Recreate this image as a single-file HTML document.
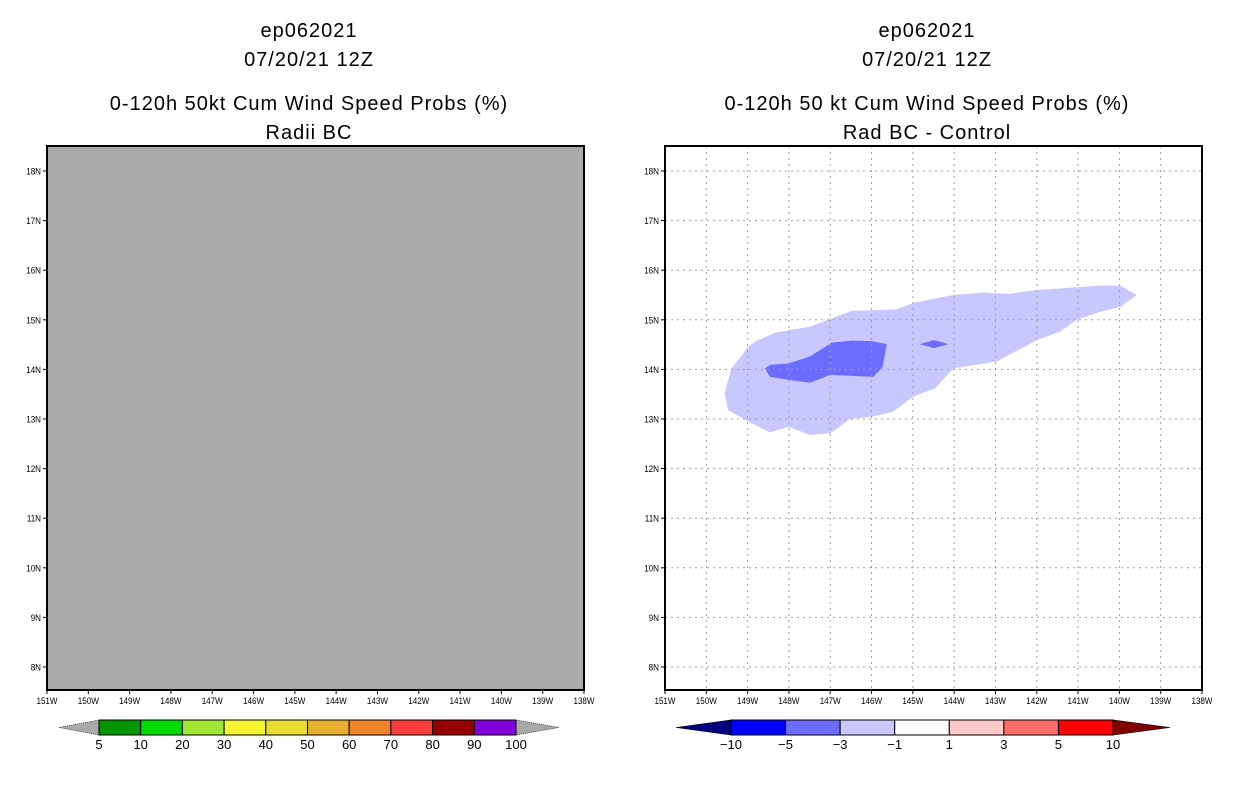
<!DOCTYPE html>
<html><head><meta charset="utf-8"><style>
html,body{margin:0;padding:0;background:#fff;width:1236px;height:800px;overflow:hidden}
svg{display:block}
text{font-family:"Liberation Sans",sans-serif}
</style></head><body>
<svg id="s" width="1236" height="800" xmlns="http://www.w3.org/2000/svg"></svg>
<script>
const lonTicks=[151,150,149,148,147,146,145,144,143,142,141,140,139,138];
const latTicks=[8,9,10,11,12,13,14,15,16,17,18];
const lightLon=[-149.56,-149.39,-148.98,-148.78,-148.30,-147.49,-146.96,-146.48,-145.39,-144.99,-144.02,-143.25,-142.69,-142.00,-140.47,-139.98,-139.58,-139.98,-140.47,-141.03,-141.44,-142.00,-142.97,-144.02,-144.46,-144.99,-145.47,-145.96,-146.52,-147.00,-147.49,-148.01,-148.46,-148.98,-149.47];
const lightLat=[13.52,14.02,14.46,14.58,14.75,14.86,15.03,15.18,15.21,15.34,15.50,15.55,15.52,15.60,15.69,15.69,15.50,15.26,15.16,15.00,14.76,14.59,14.16,14.02,13.62,13.45,13.15,13.05,13.00,12.71,12.68,12.84,12.73,12.95,13.18];
const darkLon=[-148.58,-148.46,-148.01,-147.49,-146.96,-146.48,-146.00,-145.63,-145.73,-145.96,-146.48,-147.00,-147.49,-148.01,-148.46];
const darkLat=[14.02,14.09,14.12,14.26,14.54,14.58,14.57,14.51,14.05,13.85,13.87,13.89,13.73,13.79,13.85];
const spotLon=[-144.83,-144.49,-144.14,-144.49];
const spotLat=[14.51,14.59,14.51,14.43];
const leftBarLabels=["5","10","20","30","40","50","60","70","80","90","100"];
const leftBarColors=["#009600","#00dc00","#a0e632","#f5f532","#e6dc32","#e6af2d","#f08228","#fa3c3c","#960000","#8200dc"];
const rightBarLabels=["-10","-5","-3","-1","1","3","5","10"];
const rightBarColors=["#0000ff","#6c6cff","#c8c8ff","#ffffff","#ffc8c8","#ff6c6c","#ff0000"];

const S=document.getElementById('s');const NS="http://www.w3.org/2000/svg";
function el(t,a,p){const e=document.createElementNS(NS,t);for(const k in a)e.setAttribute(k,a[k]);(p||S).appendChild(e);return e;}
const PW=537,T=146,B=690;
function xs(x0){return lon=>x0+(lon+151)*(PW/13);}
function ys(lat){return 171+(18-lat)*49.6;}

function titles(cx,l){
  const ys_=[30,59,103,132];
  l.forEach((t,i)=>{const e=el('text',{x:cx,y:ys_[i]+7,'text-anchor':'middle','font-size':'20','fill':'#000','letter-spacing':'1'});e.textContent=t;
  
  });
}
function axes(x0,grid){
  const X=xs(x0);
  const g=el('g',{});
  
  
  lonTicks.forEach(v=>{const x=X(-v);
    el('line',{x1:x,x2:x,y1:B,y2:B+4,stroke:'#000','stroke-width':1},g);
    if(grid&&v!==151&&v!==138) el('line',{x1:x,x2:x,y1:T,y2:B,stroke:'#a0a0a0','stroke-width':1,'stroke-dasharray':'2,4'},g);
    const t=el('text',{x:x,y:B+14,'text-anchor':'middle','font-size':'9.5','transform':`translate(${x},0) scale(0.85,1) translate(${-x},0)`},g);t.textContent=v+'W';
    
    });
  latTicks.forEach(v=>{const y=ys(v);
    el('line',{x1:x0-4,x2:x0,y1:y,y2:y,stroke:'#000','stroke-width':1},g);
    if(grid) el('line',{x1:x0,x2:x0+PW,y1:y,y2:y,stroke:'#a0a0a0','stroke-width':1,'stroke-dasharray':'2,4'},g);
    const t=el('text',{x:x0-6,y:y+3.5,'text-anchor':'end','font-size':'9.5','transform':`translate(${x0-6},0) scale(0.85,1) translate(${-(x0-6)},0)`},g);t.textContent=v+'N';
    
    });
}
function poly(X,lons,lats,fill,name){
  const p=el('polygon',{points:lons.map((l,i)=>X(l)+','+ys(lats[i])).join(' '),fill:fill});
  
  
}
// Left panel
titles(309,["ep062021","07/20/21 12Z","0-120h 50kt Cum Wind Speed Probs (%)","Radii BC"]);
const lp=el('rect',{x:47,y:T,width:PW,height:B-T,fill:'#aaaaaa'});


axes(47,false);
el('rect',{x:47,y:T,width:PW,height:B-T,fill:'none',stroke:'#000','stroke-width':2});
// Right panel
titles(927,["ep062021","07/20/21 12Z","0-120h 50 kt Cum Wind Speed Probs (%)","Rad BC - Control"]);
const rp=el('rect',{x:665,y:T,width:PW,height:B-T,fill:'#fff'});


const XR=xs(665);
poly(XR,lightLon,lightLat,'#c8c8ff','contour-minus1-to-minus3');
poly(XR,darkLon,darkLat,'#6c6cff','contour-minus3-to-minus5');
poly(XR,spotLon,spotLat,'#6c6cff','contour-minus3-spot');
axes(665,true);
el('rect',{x:665,y:T,width:PW,height:B-T,fill:'none',stroke:'#000','stroke-width':2});
// Colorbars
function cbar(x0,x1,ta,tb,colors,labels,lc,rc,name){
  const g=el('g',{});
  
  
  const y0=720,y1=735,w=(x1-x0)/colors.length;
  el('polygon',{points:`${x0},${y0} ${x0},${y1} ${ta},${(y0+y1)/2}`,fill:lc,stroke:'#000','stroke-width':0.6,'stroke-dasharray':lc==='#aaaaaa'?'1,1':''},g);
  el('polygon',{points:`${x1},${y0} ${x1},${y1} ${tb},${(y0+y1)/2}`,fill:rc,stroke:'#000','stroke-width':0.6,'stroke-dasharray':rc==='#aaaaaa'?'1,1':''},g);
  colors.forEach((c,i)=>el('rect',{x:x0+i*w,y:y0,width:w,height:y1-y0,fill:c,stroke:'#000','stroke-width':1},g));
  const off=labels.length===colors.length+1?0:1;
  labels.forEach((l,i)=>{const x=x0+(i+off)*w;const t=el('text',{x:x,y:749,'text-anchor':'middle','font-size':'13'},g);t.textContent=l.replace('-','\u2212');
    
    });
}
cbar(99,516,59,559,leftBarColors,leftBarLabels,'#aaaaaa','#aaaaaa','left-colorbar');
cbar(731,1113,676,1170,rightBarColors,rightBarLabels,'#000080','#800000','right-colorbar');
</script>
</body></html>
